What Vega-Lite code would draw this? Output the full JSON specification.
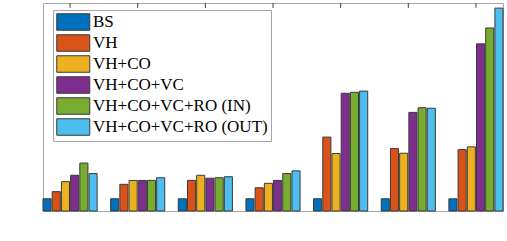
{
  "$schema": "https://vega.github.io/schema/vega-lite/v6.json",
  "width": 460,
  "height": 208,
  "autosize": {"type": "none"},
  "padding": {"left": 43, "top": 3, "right": 4, "bottom": 30},
  "background": "white",
  "config": {
    "font": "Liberation Serif",
    "view": {"stroke": "#a6a6a6", "strokeWidth": 1},
    "axis": {"grid": false, "domain": false, "tickColor": "#404040", "tickSize": -5, "labelColor": "#262626", "labelFont": "Liberation Serif", "titleFont": "Liberation Serif", "titleColor": "#262626", "titleFontWeight": "normal"},
    "legend": {"labelFont": "Liberation Serif", "labelFontSize": 17}
  },
  "data": {"values": [
    {"bench": "3D", "config": "BS", "speedup": 1.0},
    {"bench": "3D", "config": "VH", "speedup": 1.29},
    {"bench": "3D", "config": "VH+CO", "speedup": 1.70},
    {"bench": "3D", "config": "VH+CO+VC", "speedup": 1.96},
    {"bench": "3D", "config": "VH+CO+VC+RO (IN)", "speedup": 2.46},
    {"bench": "3D", "config": "VH+CO+VC+RO (OUT)", "speedup": 2.03},
    {"bench": "RA", "config": "BS", "speedup": 1.0},
    {"bench": "RA", "config": "VH", "speedup": 1.59},
    {"bench": "RA", "config": "VH+CO", "speedup": 1.75},
    {"bench": "RA", "config": "VH+CO+VC", "speedup": 1.75},
    {"bench": "RA", "config": "VH+CO+VC+RO (IN)", "speedup": 1.75},
    {"bench": "RA", "config": "VH+CO+VC+RO (OUT)", "speedup": 1.86},
    {"bench": "RM", "config": "BS", "speedup": 1.0},
    {"bench": "RM", "config": "VH", "speedup": 1.75},
    {"bench": "RM", "config": "VH+CO", "speedup": 1.96},
    {"bench": "RM", "config": "VH+CO+VC", "speedup": 1.84},
    {"bench": "RM", "config": "VH+CO+VC+RO (IN)", "speedup": 1.86},
    {"bench": "RM", "config": "VH+CO+VC+RO (OUT)", "speedup": 1.90},
    {"bench": "CP", "config": "BS", "speedup": 1.0},
    {"bench": "CP", "config": "VH", "speedup": 1.45},
    {"bench": "CP", "config": "VH+CO", "speedup": 1.63},
    {"bench": "CP", "config": "VH+CO+VC", "speedup": 1.75},
    {"bench": "CP", "config": "VH+CO+VC+RO (IN)", "speedup": 2.03},
    {"bench": "CP", "config": "VH+CO+VC+RO (OUT)", "speedup": 2.14},
    {"bench": "FS", "config": "BS", "speedup": 1.0},
    {"bench": "FS", "config": "VH", "speedup": 3.52},
    {"bench": "FS", "config": "VH+CO", "speedup": 2.85},
    {"bench": "FS", "config": "VH+CO+VC", "speedup": 5.31},
    {"bench": "FS", "config": "VH+CO+VC+RO (IN)", "speedup": 5.35},
    {"bench": "FS", "config": "VH+CO+VC+RO (OUT)", "speedup": 5.40},
    {"bench": "OR", "config": "BS", "speedup": 1.0},
    {"bench": "OR", "config": "VH", "speedup": 3.05},
    {"bench": "OR", "config": "VH+CO", "speedup": 2.86},
    {"bench": "OR", "config": "VH+CO+VC", "speedup": 4.53},
    {"bench": "OR", "config": "VH+CO+VC+RO (IN)", "speedup": 4.72},
    {"bench": "OR", "config": "VH+CO+VC+RO (OUT)", "speedup": 4.70},
    {"bench": "WK", "config": "BS", "speedup": 1.0},
    {"bench": "WK", "config": "VH", "speedup": 3.01},
    {"bench": "WK", "config": "VH+CO", "speedup": 3.12},
    {"bench": "WK", "config": "VH+CO+VC", "speedup": 7.33},
    {"bench": "WK", "config": "VH+CO+VC+RO (IN)", "speedup": 7.98},
    {"bench": "WK", "config": "VH+CO+VC+RO (OUT)", "speedup": 8.79}
  ]},
  "layer": [
    {
      "mark": {"type": "bar", "stroke": "#3a3a3a", "strokeWidth": 1},
      "encoding": {
        "x": {"field": "bench", "type": "nominal", "sort": ["3D", "RA", "RM", "CP", "FS", "OR", "WK"], "scale": {"paddingInner": 0.2, "paddingOuter": 0},
          "axis": {"orient": "bottom", "title": null, "labelFontSize": 19, "labelPadding": 13, "labelAngle": 0}},
        "xOffset": {"field": "config", "type": "nominal", "sort": ["BS", "VH", "VH+CO", "VH+CO+VC", "VH+CO+VC+RO (IN)", "VH+CO+VC+RO (OUT)"], "scale": {"paddingInner": 0.12, "paddingOuter": 0}},
        "y": {"field": "speedup", "type": "quantitative", "scale": {"domain": [0.5, 9], "nice": false, "zero": false},
          "axis": {"orient": "left", "values": [2, 4, 6, 8], "title": "Speedup", "titleFontSize": 18, "labelFontSize": 16, "labelPadding": 11, "titlePadding": 2}},
        "y2": {"datum": 0.5},
        "color": {"field": "config", "type": "nominal", "sort": ["BS", "VH", "VH+CO", "VH+CO+VC", "VH+CO+VC+RO (IN)", "VH+CO+VC+RO (OUT)"],
          "scale": {"range": ["#0072BD", "#D95319", "#EDB120", "#7E2F8E", "#77AC30", "#4DBEEE"]},
          "legend": {"title": null, "orient": "none", "legendX": 10, "legendY": 7, "direction": "vertical",
            "symbolType": "M-1,-1H3V1H-1Z", "symbolSize": 272.25, "symbolStrokeColor": "#3a3a3a", "symbolStrokeWidth": 1, "symbolOpacity": 1,
            "labelFont": "Liberation Serif", "labelFontSize": 17, "labelColor": "#000000", "labelOffset": 19, "labelLimit": 300,
            "rowPadding": -1, "padding": 3, "strokeColor": "#a6a6a6", "fillColor": "white", "cornerRadius": 0}}
      }
    },
    {
      "transform": [{"filter": "datum.config === 'BS'"}],
      "mark": {"type": "rule", "color": "#404040", "strokeWidth": 1},
      "encoding": {
        "x": {"field": "bench", "type": "nominal", "sort": ["3D", "RA", "RM", "CP", "FS", "OR", "WK"], "bandPosition": 0.5, "axis": null},
        "y": {"datum": 9, "type": "quantitative", "axis": null},
        "y2": {"datum": 8.8}
      }
    }
  ]
}
